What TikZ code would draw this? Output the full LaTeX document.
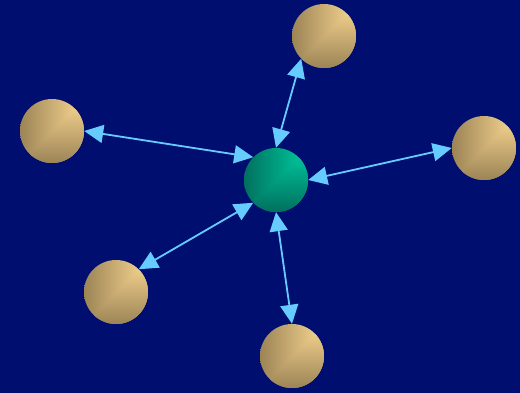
\documentclass[tikz,border=0pt]{standalone}
\usetikzlibrary{arrows.meta}
\definecolor{bg}{RGB}{0,14,112}
\definecolor{link}{RGB}{102,204,255}
\definecolor{golddark}{RGB}{156,132,86}
\definecolor{goldlight}{RGB}{250,216,146}
\definecolor{greendark}{RGB}{0,112,94}
\definecolor{greenlight}{RGB}{0,204,160}
\tikzset{
  ball/.style 2 args={circle, minimum size=64pt, inner sep=0pt,
    path picture={
      \shade[left color=#1, right color=#2]
        (path picture bounding box.south west) rectangle (path picture bounding box.north east);
      \shade[top color=#2, bottom color=#1]
        (path picture bounding box.south west) -- (path picture bounding box.north east)
        -- (path picture bounding box.south east) -- cycle;
    }},
  outer/.style={ball={golddark}{goldlight}},
  hub/.style={ball={greendark}{greenlight}},
  conn/.style={draw=link, line width=1.8pt,
    {Triangle[length=19pt,width=18pt]}-{Triangle[length=19pt,width=18pt]}}
}
\begin{document}
\begin{tikzpicture}[x=1pt,y=-1pt]
\fill[bg] (0,0) rectangle (520,393);
\useasboundingbox (0,0) rectangle (520,393);
\node[hub] (c) at (276,180) {};
\node[outer] (t) at (324,36) {};
\node[outer] (l) at (52,131) {};
\node[outer] (r) at (484,148) {};
\node[outer] (bl) at (116,292) {};
\node[outer] (b) at (292,356) {};
\draw[conn] (c.north) -- (t.south west);
\draw[conn] (c.north west) -- (l.east);
\draw[conn] (c.east) -- (r.west);
\draw[conn] (c.south west) -- (bl.north east);
\draw[conn] (c.south) -- (b.north);
\end{tikzpicture}
\end{document}
